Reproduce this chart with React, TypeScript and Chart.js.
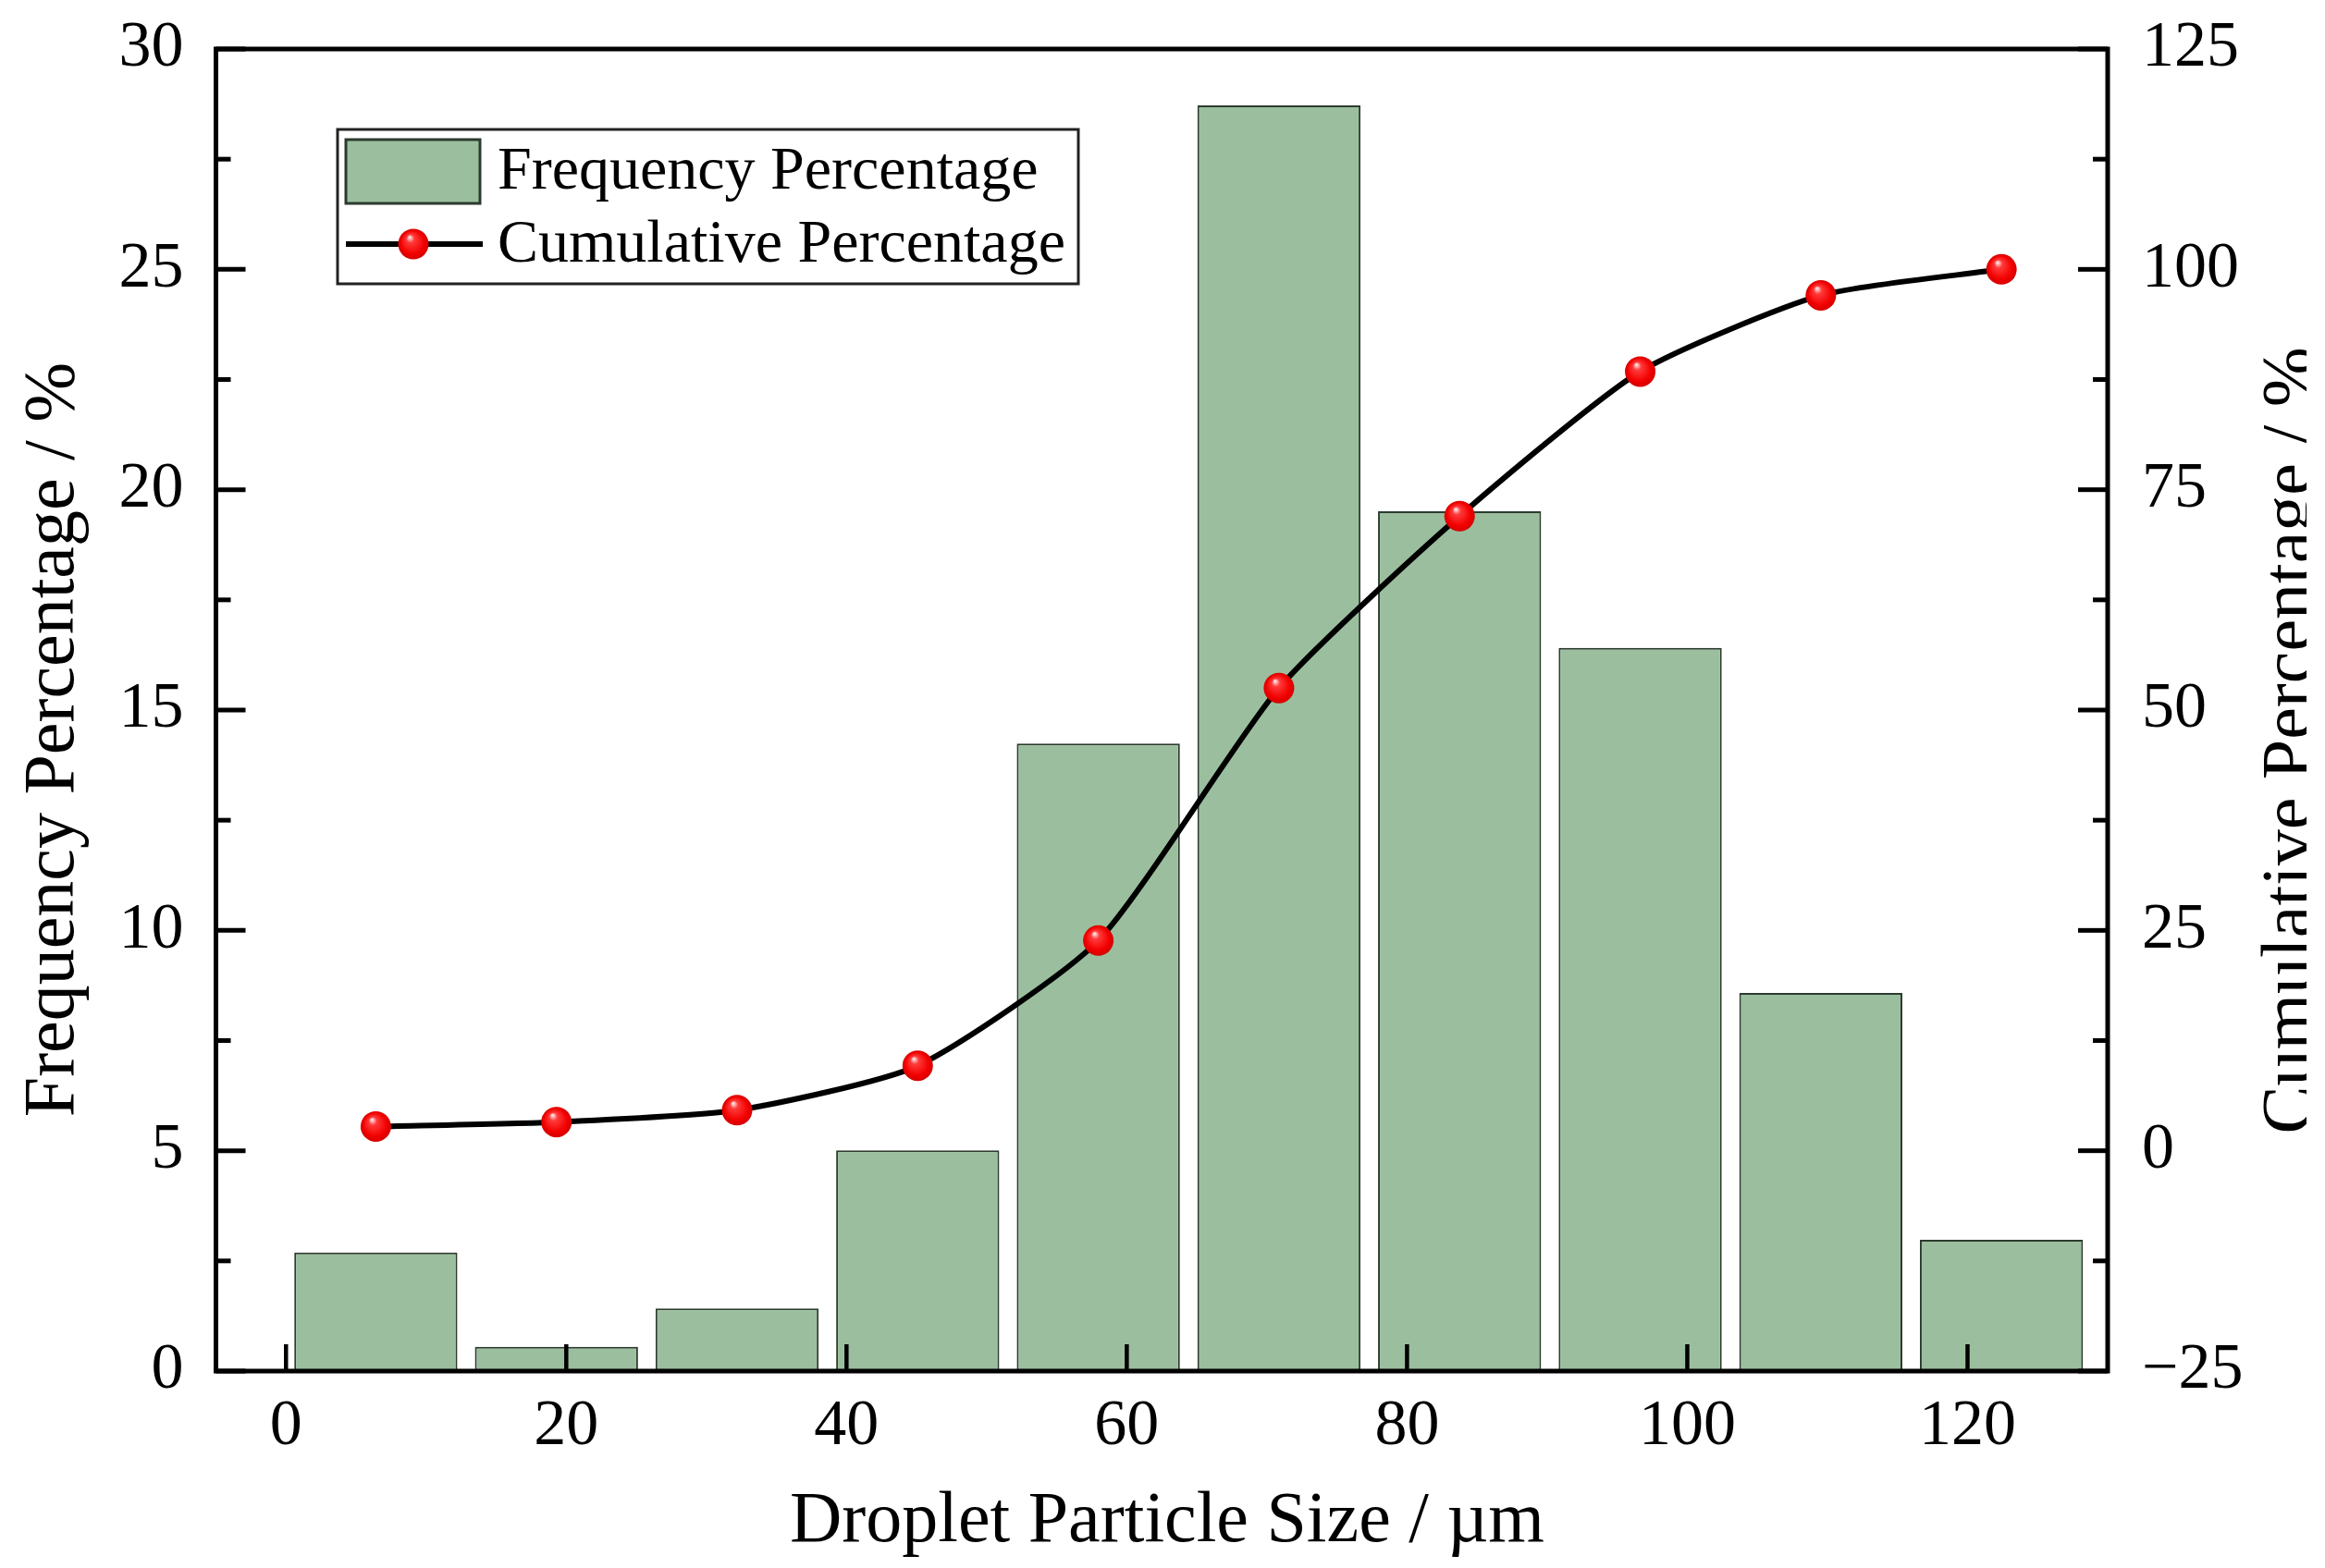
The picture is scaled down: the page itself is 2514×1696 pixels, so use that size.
import React, { useEffect, useRef } from 'react';
import { Chart, registerables } from 'chart.js';

Chart.register(...registerables);

// ---- data ----
const sizeCenters = [6.41, 19.3, 32.19, 45.08, 57.97, 70.86, 83.75, 96.64, 109.53, 122.42];
const frequency = [2.69, 0.55, 1.42, 5.01, 14.24, 28.72, 19.51, 16.41, 8.58, 2.98];
const cumulative = [2.75, 3.25, 4.6, 9.65, 23.85, 52.5, 72.0, 88.4, 97.05, 100.0];

const xTicks = [0, 20, 40, 60, 80, 100, 120];
const leftTicks = [0, 5, 10, 15, 20, 25, 30];
const leftMinor = [2.5, 7.5, 12.5, 17.5, 22.5, 27.5];
const rightTicks = [-25, 0, 25, 50, 75, 100, 125];
const rightMinor = [-12.5, 12.5, 37.5, 62.5, 87.5, 112.5];

const freqLabel = 'Frequency Percentage';
const cumLabel = 'Cumulative Percentage';
const xTitle = 'Droplet Particle Size / µm';
const yLeftTitle = 'Frequency Percentage / %';
const yRightTitle = 'Cumulative Percentage / %';

const SERIF = '"Liberation Serif", "Times New Roman", serif';
const BAR_FILL = '#9bbf9e';
const BAR_EDGE = '#2d3b2f';

function redBall(ctx: CanvasRenderingContext2D, x: number, y: number, r: number) {
  const g = ctx.createRadialGradient(x - r * 0.25, y - r * 0.45, 1, x, y, r);
  g.addColorStop(0, '#ffd6d6');
  g.addColorStop(0.22, '#ff3a3a');
  g.addColorStop(0.75, '#f20000');
  g.addColorStop(1, '#d40000');
  return g;
}

const framePlugin = {
  id: 'frameTicks',
  afterDatasetsDraw(chart: any) {
    const { ctx, chartArea: a, scales } = chart;
    ctx.save();
    ctx.strokeStyle = '#000';
    ctx.lineCap = 'butt';
    const seg = (x1: number, y1: number, x2: number, y2: number, w: number) => {
      ctx.lineWidth = w;
      ctx.beginPath();
      ctx.moveTo(x1, y1);
      ctx.lineTo(x2, y2);
      ctx.stroke();
    };
    leftTicks.forEach((v) => {
      const y = scales.y.getPixelForValue(v);
      seg(a.left, y, a.left + 32, y, 5);
    });
    leftMinor.forEach((v) => {
      const y = scales.y.getPixelForValue(v);
      seg(a.left, y, a.left + 16, y, 5);
    });
    rightTicks.forEach((v) => {
      const y = scales.y1.getPixelForValue(v);
      seg(a.right, y, a.right - 32, y, 5);
    });
    rightMinor.forEach((v) => {
      const y = scales.y1.getPixelForValue(v);
      seg(a.right, y, a.right - 16, y, 5);
    });
    xTicks.forEach((v) => {
      const x = scales.x.getPixelForValue(v);
      seg(x, a.bottom, x, a.bottom - 29, 4.5);
    });
    ctx.lineWidth = 5;
    ctx.lineJoin = 'miter';
    ctx.strokeRect(a.left, a.top, a.right - a.left, a.bottom - a.top);
    ctx.restore();
  },
};

const decorPlugin = {
  id: 'decor',
  afterDraw(chart: any) {
    const { ctx } = chart;
    ctx.save();
    // legend
    ctx.fillStyle = '#fff';
    ctx.fillRect(365, 140, 801, 167);
    ctx.strokeStyle = '#222';
    ctx.lineWidth = 3;
    ctx.strokeRect(365, 140, 801, 167);

    ctx.fillStyle = BAR_FILL;
    ctx.fillRect(374, 151, 145, 69);
    ctx.strokeStyle = BAR_EDGE;
    ctx.lineWidth = 3;
    ctx.strokeRect(374, 151, 145, 69);

    ctx.strokeStyle = '#000';
    ctx.lineWidth = 6;
    ctx.beginPath();
    ctx.moveTo(374, 264);
    ctx.lineTo(522, 264);
    ctx.stroke();
    ctx.fillStyle = redBall(ctx, 447, 264, 16.5);
    ctx.beginPath();
    ctx.arc(447, 264, 16.5, 0, Math.PI * 2);
    ctx.fill();

    ctx.fillStyle = '#000';
    ctx.font = `66px ${SERIF}`;
    ctx.textAlign = 'left';
    ctx.textBaseline = 'middle';
    ctx.fillText(chart.data.datasets[0].label, 538, 187);
    ctx.fillText(chart.data.datasets[1].label, 538, 266);

    // axis titles
    ctx.font = `78px ${SERIF}`;
    ctx.textAlign = 'center';
    ctx.textBaseline = 'alphabetic';
    ctx.fillText(xTitle, 1262, 1667);

    ctx.save();
    ctx.translate(79, 800);
    ctx.rotate(-Math.PI / 2);
    ctx.fillText(yLeftTitle, 0, 0);
    ctx.restore();

    ctx.save();
    ctx.beginPath();
    ctx.rect(0, 0, 2494, 1696);
    ctx.clip();
    ctx.translate(2499, 801);
    ctx.rotate(-Math.PI / 2);
    ctx.fillText(yRightTitle, 0, 0);
    ctx.restore();

    ctx.restore();
  },
};

const tickFont = { family: SERIF, size: 70 };
const minusFmt = (v: any) => String(v).replace('-', '\u2212');

export default function App() {
  const ref = useRef<HTMLCanvasElement>(null);

  useEffect(() => {
    document.body.style.margin = '0';
    document.body.style.background = '#fff';
    const canvas = ref.current!;
    const chart = new Chart(canvas, {
      type: 'bar',
      data: {
        datasets: [
          {
            type: 'bar',
            label: freqLabel,
            data: sizeCenters.map((x, i) => ({ x, y: frequency[i] })),
            backgroundColor: BAR_FILL,
            borderColor: BAR_EDGE,
            borderWidth: 2,
            barPercentage: 0.903,
            categoryPercentage: 1,
            yAxisID: 'y',
            order: 2,
          } as any,
          {
            type: 'line',
            label: cumLabel,
            data: sizeCenters.map((x, i) => ({ x, y: cumulative[i] })),
            borderColor: '#000',
            borderWidth: 6,
            tension: 0.2,
            pointRadius: 16.5,
            pointBorderWidth: 0,
            pointBackgroundColor: (c: any) => {
              const ch = c.chart;
              const xs = ch.scales && ch.scales.x;
              const ys = ch.scales && ch.scales.y1;
              if (!xs || !ys || !c.parsed) return '#f00';
              const px = xs.getPixelForValue(c.parsed.x);
              const py = ys.getPixelForValue(c.parsed.y);
              if (!Number.isFinite(px) || !Number.isFinite(py)) return '#f00';
              return redBall(ch.ctx, px, py, 16.5);
            },
            yAxisID: 'y1',
            order: 1,
          } as any,
        ],
      },
      options: {
        responsive: false,
        devicePixelRatio: 1,
        animation: false,
        events: [],
        layout: { padding: { top: 53, left: 0, right: 0, bottom: 0 } },
        plugins: { legend: { display: false }, tooltip: { enabled: false } },
        scales: {
          x: {
            type: 'linear',
            position: 'bottom',
            min: -5,
            max: 130,
            offset: false,
            grid: { display: false, drawTicks: false },
            border: { display: false },
            ticks: { font: tickFont, color: '#000', padding: 19, maxRotation: 0, autoSkip: false },
            afterBuildTicks: (s: any) => {
              s.ticks = xTicks.map((v) => ({ value: v }));
            },
            afterFit: (s: any) => {
              s.height = 213;
              s.paddingLeft = 0;
              s.paddingRight = 0;
            },
          },
          y: {
            type: 'linear',
            position: 'left',
            min: 0,
            max: 30,
            grid: { display: false, drawTicks: false },
            border: { display: false },
            ticks: { font: tickFont, color: '#000', padding: 35, callback: minusFmt },
            afterBuildTicks: (s: any) => {
              s.ticks = leftTicks.map((v) => ({ value: v }));
            },
            afterFit: (s: any) => {
              s.width = 233.5;
              s.paddingTop = 0;
              s.paddingBottom = 0;
            },
          },
          y1: {
            type: 'linear',
            position: 'right',
            min: -25,
            max: 125,
            grid: { display: false, drawTicks: false },
            border: { display: false },
            ticks: { font: tickFont, color: '#000', padding: 37, callback: minusFmt },
            afterBuildTicks: (s: any) => {
              s.ticks = rightTicks.map((v) => ({ value: v }));
            },
            afterFit: (s: any) => {
              s.width = 235;
              s.paddingTop = 0;
              s.paddingBottom = 0;
            },
          },
        },
      } as any,
      plugins: [framePlugin, decorPlugin],
    });
    return () => chart.destroy();
  }, []);

  return (
    <canvas
      ref={ref}
      width={2514}
      height={1696}
      style={{ display: 'block', width: '2514px', height: '1696px' }}
    />
  );
}
